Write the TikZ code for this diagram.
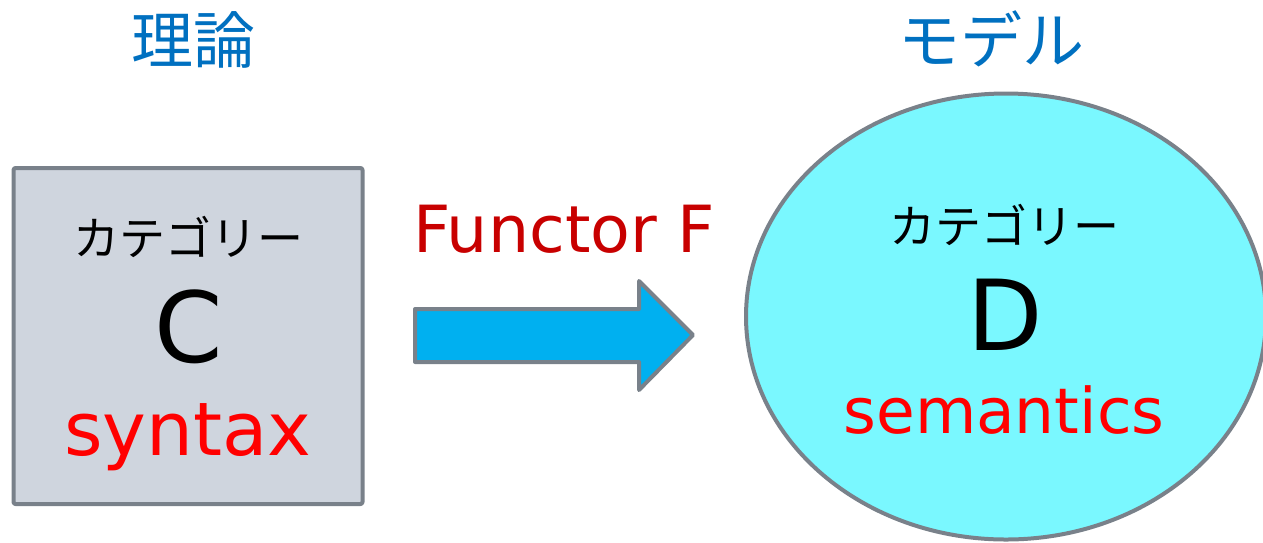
\documentclass[tikz,border=0pt]{standalone}
\usepackage{fontspec}
\usetikzlibrary{shapes.geometric}
\setmainfont{DejaVu Sans}
\newfontfamily\jp{Noto Sans CJK JP}
\definecolor{titleblue}{HTML}{0070C0}
\definecolor{boxfill}{HTML}{CFD5DE}
\definecolor{edgegrey}{HTML}{79818A}
\definecolor{arrowblue}{HTML}{00B0F0}
\definecolor{ellfill}{HTML}{7AF8FF}
\definecolor{darkred}{HTML}{C80000}
\definecolor{brightred}{HTML}{FF0000}
\tikzset{
  txt/.style={inner sep=0pt, outer sep=0pt},
  title/.style={txt, text=titleblue, font=\jp\fontsize{62}{64}\selectfont},
  cat/.style={txt, font=\jp\fontsize{46}{48}\selectfont},
  big/.style={txt, anchor=base, font=\fontsize{98}{100}\selectfont},
  redlbl/.style={txt, anchor=base, text=brightred},
  shapeedge/.style={draw=edgegrey, line width=4pt, line join=round}
}
\begin{document}
\begin{tikzpicture}[x=1pt,y=-1pt]
\useasboundingbox (0,0) rectangle (1263,542);
\clip (0,0) rectangle (1263,542);
% titles
\node[title] (t1) at (193,40) {理論};
\node[title] (t2) at (991,39) {モデル};
% box C
\node[shapeedge, fill=boxfill, rounded corners=2pt, minimum width=349pt, minimum height=336pt, inner sep=0pt] (boxC) at (188,336) {};
\node[cat] (catC) at (188,237) {カテゴリー};
\node[big] (C) at (189,362) {C};
\node[redlbl, font=\fontsize{74}{76}\selectfont] (syn) at (188,455) {syntax};
% functor label
\node[txt, anchor=base, text=darkred, font=\fontsize{65}{67}\selectfont] (fun) at (564,252) {Functor F};
% block arrow
\draw[shapeedge, fill=arrowblue] (415,309) -- (639,309) -- (639,281) -- (693,335) -- (639,390) -- (639,362) -- (415,362) -- cycle;
% ellipse D
\node[shapeedge, fill=ellfill, ellipse, minimum width=520pt, minimum height=446pt, inner sep=0pt] (ellD) at (1006,316.5) {};
\node[cat] (catD) at (1004,225) {カテゴリー};
\node[big] (D) at (1005,350) {D};
\node[redlbl, font=\fontsize{63}{65}\selectfont] (sem) at (1004,433) {semantics};
\end{tikzpicture}
\end{document}
